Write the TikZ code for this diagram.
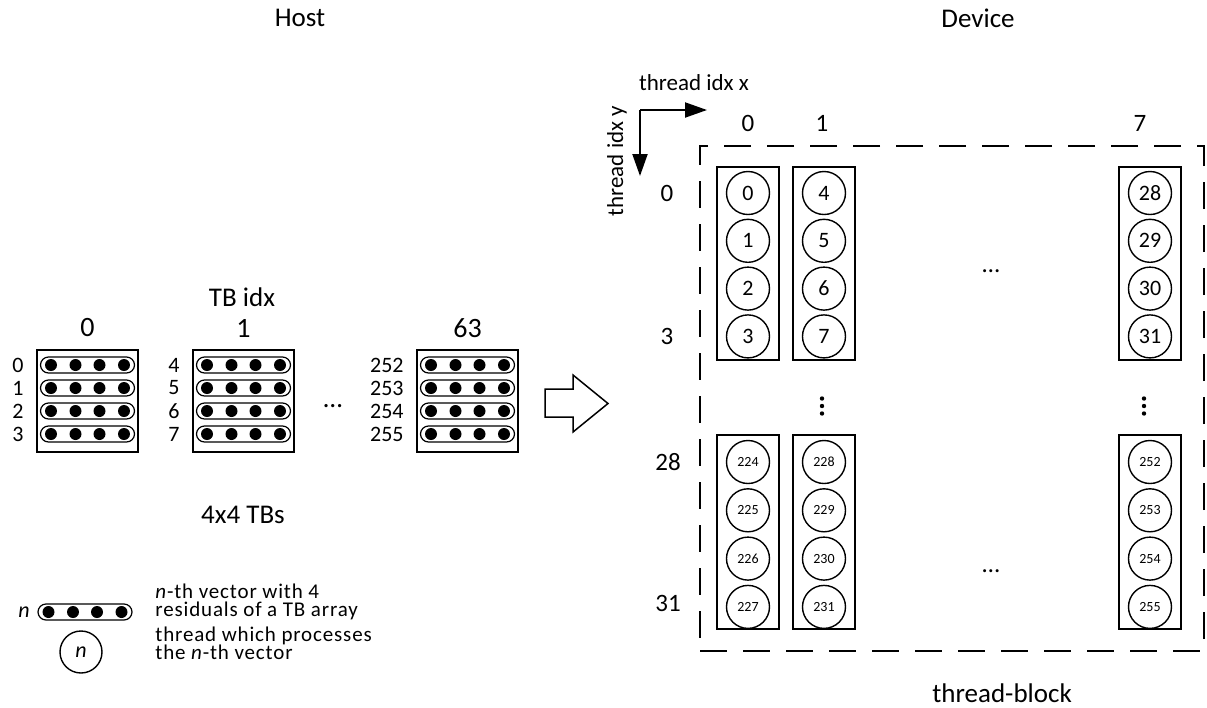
\documentclass[tikz,border=0pt]{standalone}
\usepackage{fontspec}
\setmainfont{Carlito}
\usetikzlibrary{arrows.meta,calc,shapes.misc}
\begin{document}
\begin{tikzpicture}[x=0.5pt,y=-0.5pt,
  tbbox/.style={draw, line width=0.8pt, minimum width=50.5pt, minimum height=51pt, inner sep=0pt},
  pill/.style={draw, rounded rectangle, line width=0.6pt, minimum width=47pt, minimum height=8pt, inner sep=0pt},
  hdr/.style={font=\fontsize{14}{16}\selectfont, inner sep=0pt},
  rowlab/.style={font=\fontsize{11}{12}\selectfont, inner sep=0pt},
  title/.style={font=\fontsize{13.5}{15}\selectfont, inner sep=0pt},
  lbl/.style={font=\fontsize{13.5}{15}\selectfont, inner sep=0pt},
  dlbl/.style={font=\fontsize{12.5}{14}\selectfont, inner sep=0pt},
  thbox/.style={draw, line width=0.8pt, minimum width=31pt, inner sep=0pt},
  thr/.style={draw, circle, line width=0.7pt, minimum size=21.5pt, inner sep=0pt, font=\fontsize{11}{12}\selectfont},
  thrs/.style={thr, font=\fontsize{7}{8}\selectfont},
  legtxt/.style={font=\fontsize{10.5}{9}\selectfont\addfontfeature{LetterSpace=4}, align=left, anchor=west, inner sep=0pt},
  dashbox/.style={draw, line width=0.75pt, dash pattern=on 13.5pt off 8pt, minimum width=252pt, minimum height=252.5pt, inner sep=0pt},
  axarrow/.style={line width=1pt, -{Triangle[length=11pt,width=7.5pt]}},
  axlbl/.style={font=\fontsize{11.5}{13}\selectfont, inner sep=0pt}
]
\useasboundingbox (0,0) rectangle (1207,708);

% titles
\node[title] (host) at (300,18) {Host};
\node[title] (dev) at (978,18) {Device};

% ---------- Host side ----------
\node[lbl] (tbidx) at (242,297) {TB idx};
\foreach \n/\cx/\hd/\start in {a/87.5/0/0, b/243.5/1/4, c/467.5/63/252} {
  \node[tbbox] (tb\n) at (\cx,401) {};
  \node[hdr] (hd\n) at (\cx,328) {\hd};
  \foreach \r in {0,1,2,3} {
    \pgfmathtruncatemacro\idx{\start+\r}
    \node[pill] (p\n\r) at (\cx,365+23*\r) {};
    \foreach \d in {-36.5,-12,12,36.5}
      \fill (\cx+\d,365+23*\r) circle (3pt);
    \node[rowlab, anchor=east] (rl\n\r) at (\cx-50.5-13,365+23*\r) {\idx};
  }
}
\node[lbl] (hdots) at (333,406) {…};
\node[lbl] (tbs) at (243,515) {4x4 TBs};

% big arrow
\draw[line width=0.75pt] (545,389) -- (573,389) -- (573,375) -- (608,403.5)
  -- (573,432) -- (573,417) -- (545,417) -- cycle;

% legend
\node[pill] (legp) at (85,612) {};
\foreach \d in {-36.5,-12,12,36.5}
  \fill (85+\d,612) circle (3pt);
\node[rowlab, anchor=east] (legn) at (30,612) {\textit{n}};
\node[legtxt] (legt1) at (155,602) {\textit{n}-th vector with 4\\residuals of a TB array};
\node[legtxt] (legt2) at (155,643) {thread which processes\\the \textit{n}-th vector};
\node[thr, minimum size=21pt] (legc) at (81,652) {\textit{n}};

% ---------- Device side ----------
\node[dashbox] (block) at (952,398.5) {};
\node[title, anchor=west] (tblock) at (932,693) {thread-block};

\coordinate (ax0) at (640,110);
\coordinate (axx) at (707,110);
\coordinate (axy) at (640,176);
\draw[axarrow] (ax0) -- (axx);
\draw[axarrow] (ax0) -- (axy);
\node[axlbl] (tix) at (694,83) {thread idx x};
\node[axlbl, rotate=90] (tiy) at (617,161) {thread idx y};

\node[dlbl] (cx0) at (748,123) {0};
\node[dlbl] (cx1) at (822,123) {1};
\node[dlbl] (cx7) at (1140,123) {7};
\node[dlbl] (ry0) at (667,193) {0};
\node[dlbl] (ry3) at (667,336) {3};
\node[dlbl] (ry28) at (668,462) {28};
\node[dlbl] (ry31) at (668,603) {31};

% top row of thread columns
\foreach \n/\cx/\start in {a/748/0, b/824/4, c/1150/28} {
  \node[thbox, minimum height=96.5pt] (tt\n) at (\cx,263.5) {};
  \foreach \i in {0,1,2,3} {
    \pgfmathtruncatemacro\idx{\start+\i}
    \node[thr] (t\n\i) at (\cx,193+47.8*\i) {\idx};
  }
}
% bottom row of thread columns
\foreach \n/\cx/\start in {a/748/224, b/824/228, c/1150/252} {
  \node[thbox, minimum height=97pt] (bb\n) at (\cx,532) {};
  \foreach \i in {0,1,2,3} {
    \pgfmathtruncatemacro\idx{\start+\i}
    \node[thrs] (b\n\i) at (\cx,462+48.3*\i) {\idx};
  }
}

\node[dlbl] (dh1) at (991,271) {…};
\node[dlbl] (dh2) at (991,571) {…};
\foreach \vx in {822,1144}
  \foreach \vy in {398.5,406,413.5}
    \fill (\vx,\vy) circle (1.1pt);

\end{tikzpicture}
\end{document}
